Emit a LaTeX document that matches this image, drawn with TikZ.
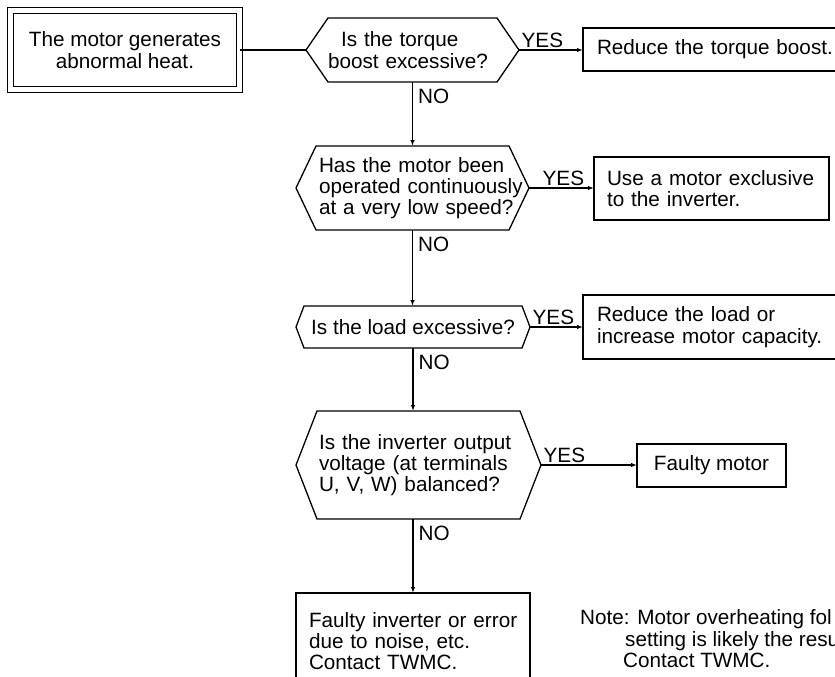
\documentclass[tikz,border=0pt]{standalone}
\usepackage{fontspec}
\setmainfont{Liberation Sans}
\usetikzlibrary{arrows.meta}
\newcommand\hexpath[2]{\draw[lw] (#1.west) -- ([xshift=#2]#1.north west) -- ([xshift=-#2]#1.north east) -- (#1.east) -- ([xshift=-#2]#1.south east) -- ([xshift=#2]#1.south west) -- cycle;}
\begin{document}
\begin{tikzpicture}[x=1pt,y=-1pt,
  font=\fontsize{20.7}{21.3}\selectfont,
  lw/.style={line width=1.3pt},
  box/.style={draw, lw, inner sep=0pt, outer sep=0pt, rectangle},
  hexa/.style={inner sep=0pt, outer sep=0pt, rectangle},
  arr/.style={lw, -{Latex[length=6pt,width=4.5pt]}},
  conn/.style={lw},
  yeslbl/.style={pos=0, anchor=south west, inner sep=0pt},
  nolbl/.style={pos=0, anchor=north west, inner sep=0pt, xshift=5pt, yshift=-6pt},
]
\useasboundingbox (0,0) rectangle (835,677);
\clip (0,0) rectangle (835,677);

% start
\node[draw, lw, double, double distance=4.7pt, minimum width=229.5pt, minimum height=79.5pt, inner sep=0pt, outer sep=0pt, align=center] (start) at (125,50) {The motor generates\\abnormal heat.};

% decisions
\node[hexa, minimum width=213pt, minimum height=64pt, text width=169pt, align=left] (h1) at (412.5,50) {\hspace*{13pt}Is the torque\\\mbox{boost excessive?}};
\hexpath{h1}{22pt}
\node[hexa, minimum width=233pt, minimum height=84pt, text width=187pt, align=left] (h2) at (412.5,188) {\mbox{Has the motor been}\\\mbox{operated continuously}\\\mbox{at a very low speed?}};
\hexpath{h2}{20pt}
\node[hexa, minimum width=234pt, minimum height=42pt] (h3) at (413,327) {Is the load excessive?};
\hexpath{h3}{8pt}
\node[hexa, minimum width=245pt, minimum height=108pt, text width=199pt, align=left] (h4) at (418.5,465) {\mbox{Is the inverter output}\\\mbox{voltage (at terminals}\\\mbox{U, V, W) balanced?}};
\hexpath{h4}{21pt}

% actions
\node[box, minimum width=262pt, minimum height=43pt, text width=234pt, align=left] (b1) at (714,49.5) {\mbox{Reduce the torque boost.}};
\node[box, minimum width=235pt, minimum height=63pt, text width=209pt, align=left] (b2) at (711.5,188.5) {\mbox{Use a motor exclusive}\\\mbox{to the inverter.}};
\node[box, minimum width=262pt, minimum height=64pt, text width=234pt, align=left] (b3) at (714,327) {\mbox{Reduce the load or}\\\mbox{increase motor capacity.}};
\node[box, minimum width=149pt, minimum height=43pt] (b4) at (711.5,465.5) {Faulty motor};
\node[box, minimum width=234pt, minimum height=96pt, text width=208pt, align=left] (b5) at (413,641) {\mbox{Faulty inverter or error}\\\mbox{due to noise, etc.}\\\mbox{Contact TWMC.}};

% note
\node[anchor=north west, inner sep=0pt, align=left] (note) at (580,609.5) {Note: Motor overheating fol\\\hspace*{45pt}setting is likely the resu\\\hspace*{43pt}Contact TWMC.};

% connectors
\draw[conn] (start.east) -- (h1.west);
\draw[arr] (h1.east) -- node[yeslbl, xshift=2pt, yshift=1.5pt] (y1) {YES} (h1.east -| b1.west);
\draw[arr] (h1.south) -- node[nolbl] (n1) {NO} (h2.north);
\draw[arr] (h2.east) -- node[yeslbl, xshift=13pt, yshift=1.5pt] (y2) {YES} (h2.east -| b2.west);
\draw[arr] (h2.south) -- node[nolbl] (n2) {NO} (h2.south |- h3.north);
\draw[arr] (h3.east) -- node[yeslbl, xshift=2pt, yshift=1.5pt] (y3) {YES} (h3.east -| b3.west);
\draw[arr] (h3.south) -- node[nolbl] (n3) {NO} (h3.south |- h4.north);
\draw[arr] (h4.east) -- node[yeslbl, xshift=2pt, yshift=1.5pt] (y4) {YES} (h4.east -| b4.west);
\draw[arr] (b5.north |- h4.south) -- node[nolbl] (n4) {NO} (b5.north);
\end{tikzpicture}
\end{document}
